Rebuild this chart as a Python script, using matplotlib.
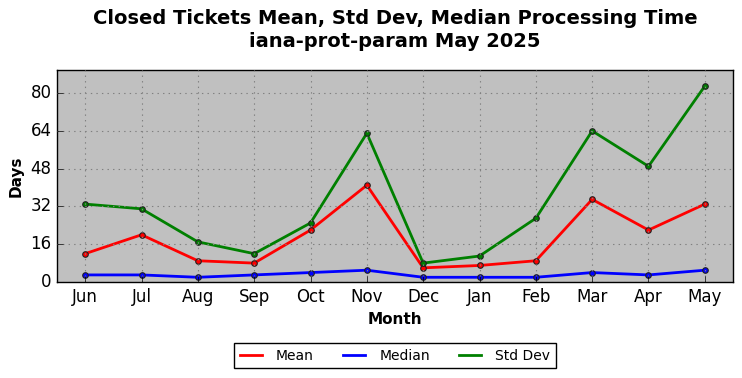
import matplotlib
matplotlib.use("Agg")
import matplotlib.pyplot as plt

months = ["Jun", "Jul", "Aug", "Sep", "Oct", "Nov", "Dec", "Jan", "Feb", "Mar", "Apr", "May"]
mean_days = [12, 20, 9, 8, 22, 41, 6, 7, 9, 35, 22, 33]
median_days = [3, 3, 2, 3, 4, 5, 2, 2, 2, 4, 3, 5]
std_days = [33, 31, 17, 12, 25, 63, 8, 11, 27, 64, 49, 83]
y_ticks = [0, 16, 32, 48, 64, 80]

plt.style.use("classic")
fig = plt.figure(figsize=(7.42, 3.78), dpi=100)
fig.patch.set_facecolor("white")
ax = fig.add_axes([57/742, 1 - 282/378, (733-57)/742, (282-70)/378])
ax.set_facecolor("#c0c0c0")

x = list(range(len(months)))
kw = dict(linewidth=2, marker="o", markersize=4, markeredgecolor="#202020", markeredgewidth=0.8)
ax.plot(x, mean_days, color="red", label="Mean", **kw)
ax.plot(x, median_days, color="blue", label="Median", **kw)
ax.plot(x, std_days, color="green", label="Std Dev", **kw)

ax.set_xlim(-0.5, 11.5)
ax.set_ylim(0, 89.8)
ax.set_xticks(x)
ax.set_xticklabels(months, fontsize=12)
ax.set_yticks(y_ticks)
ax.tick_params(axis="y", labelsize=12)
ax.grid(True, color="#808080", linestyle=":", linewidth=0.8)
ax.tick_params(top=False, right=False)

ax.set_xlabel("Month", fontsize=11, fontweight="bold")
ax.set_ylabel("Days", fontsize=11, fontweight="bold")
fig.text(395/742, 0.975, "Closed Tickets Mean, Std Dev, Median Processing Time\niana-prot-param May 2025",
         fontsize=14, fontweight="bold", ha="center", va="top", linespacing=1.25)

leg = ax.legend(loc="upper center", bbox_to_anchor=(0.5, -0.255), ncol=3, fontsize=10,
                frameon=True, fancybox=False, columnspacing=2.1, handlelength=1.6,
                handletextpad=1.0, numpoints=1)
for h in leg.legend_handles:
    h.set_marker("None")
leg.get_frame().set_edgecolor("black")

fig.savefig("out.png", dpi=100)
